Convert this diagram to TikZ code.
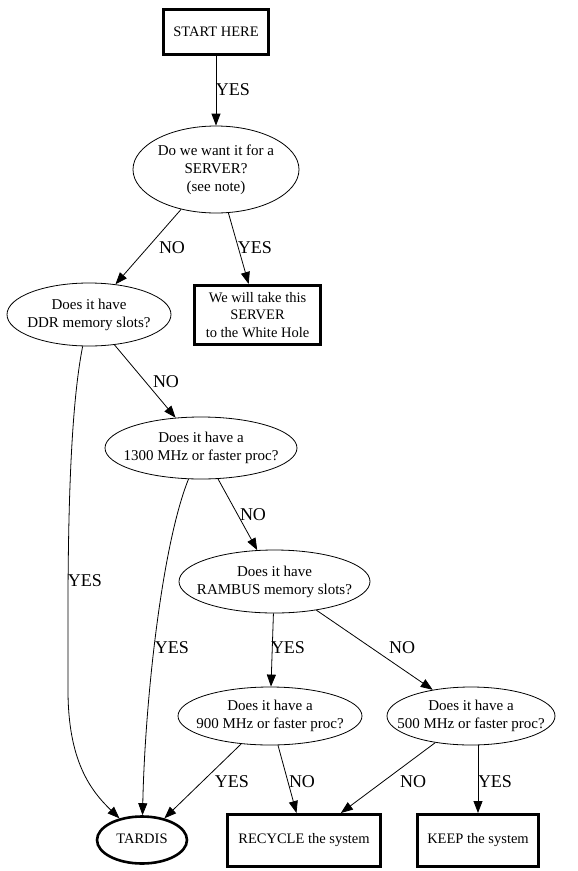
\documentclass[tikz,border=0pt]{standalone}
\usepackage{fontspec}
\setmainfont{Liberation Serif}
\usetikzlibrary{arrows.meta,shapes.geometric}
\newcommand{\ctext}[1]{\makebox[0pt]{\begin{tabular}{@{}c@{}}#1\end{tabular}}}
\begin{document}
\begin{tikzpicture}[x=1pt,y=-1pt,
  qnode/.style={ellipse, draw, line width=0.8pt, inner sep=0pt,
    font=\fontsize{15}{18}\selectfont},
  boxnode/.style={rectangle, draw, line width=3pt, inner sep=0pt, align=center,
    font=\fontsize{14.5}{17.5}\selectfont},
  termnode/.style={ellipse, draw, line width=2.6pt, inner sep=0pt,
    font=\fontsize{14.5}{18}\selectfont},
  edge/.style={draw, line width=0.8pt, -{Triangle[length=12pt,width=9pt]}},
  lab/.style={font=\fontsize{18}{20}\selectfont, inner sep=0pt}]
\useasboundingbox (0,0) rectangle (578,871);

% nodes
\node[boxnode, minimum width=105pt, minimum height=45pt] (start) at (216,32) {START HERE};
\node[qnode, minimum width=166pt, minimum height=87pt] (server) at (216,169.5)
  {\ctext{Do we want it for a\\SERVER?\\(see note)}};
\node[qnode, minimum width=164pt, minimum height=63pt] (ddr) at (89,314.5)
  {\ctext{Does it have\\DDR memory slots?}};
\node[boxnode, minimum width=126pt, minimum height=59pt] (wh) at (257.5,315)
  {We will take this\\SERVER\\to the White Hole};
\node[qnode, minimum width=192pt, minimum height=62pt] (p1300) at (201,448)
  {\ctext{Does it have a\\1300 MHz or faster proc?}};
\node[qnode, minimum width=191pt, minimum height=63pt] (rambus) at (274.5,581.5)
  {\ctext{Does it have\\RAMBUS memory slots?}};
\node[qnode, minimum width=184pt, minimum height=58pt] (p900) at (270,716)
  {\ctext{Does it have a\\900 MHz or faster proc?}};
\node[qnode, minimum width=168pt, minimum height=58pt] (p500) at (471,716)
  {\ctext{Does it have a\\500 MHz or faster proc?}};
\node[termnode, minimum width=90pt, minimum height=47pt] (tardis) at (142,840) {\ctext{TARDIS}};
\node[boxnode, minimum width=153pt, minimum height=52pt] (recycle) at (304,840.5) {RECYCLE the system};
\node[boxnode, minimum width=121pt, minimum height=52pt] (keep) at (478,840.5) {KEEP the system};

% connectors
\draw[edge] (start) -- (server);
\draw[edge] (server) -- (ddr);
\draw[edge] (server) -- (wh);
\draw[edge] (ddr) .. controls (66,430) and (68,600) .. (68,690)
  .. controls (68,760) and (90,790) .. (tardis);
\draw[edge] (ddr) -- (p1300);
\draw[edge] (p1300) .. controls (162,545) and (145,700) .. (tardis);
\draw[edge] (p1300) -- (rambus);
\draw[edge] (rambus) -- (p900);
\draw[edge] (rambus) -- (p500);
\draw[edge] (p900) -- (tardis);
\draw[edge] (p900) -- (recycle);
\draw[edge] (p500) -- (recycle);
\draw[edge] (p500.south -| keep.north) -- (keep.north);

% connector labels
\node[lab] (l1) at (233,90) {YES};
\node[lab] (l2) at (172,248) {NO};
\node[lab] (l3) at (255,248) {YES};
\node[lab] (l4) at (166,382) {NO};
\node[lab] (l5) at (85,581) {YES};
\node[lab] (l6) at (253,515) {NO};
\node[lab] (l7) at (172,648) {YES};
\node[lab] (l8) at (288,648) {YES};
\node[lab] (l9) at (402,648) {NO};
\node[lab] (l10) at (232,782) {YES};
\node[lab] (l11) at (302,782) {NO};
\node[lab] (l12) at (413,782) {NO};
\node[lab] (l13) at (495,782) {YES};
\end{tikzpicture}
\end{document}
